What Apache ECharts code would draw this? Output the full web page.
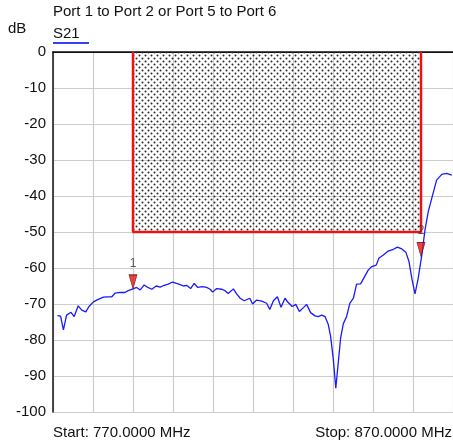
<!DOCTYPE html>
<html><head><meta charset="utf-8">
<script src="https://cdn.jsdelivr.net/npm/echarts@6/dist/echarts.min.js"></script>
<style>html,body{margin:0;padding:0;background:#fff}#c{width:453px;height:448px}</style>
</head><body><div id="c"></div>
<script>
// Trace S21 (frequency in MHz, level in dB)
const freqMHz = [771.1,771.9,772.6,773.4,774.5,775.3,776.3,777.2,778.2,779.0,780.1,781.3,782.6,783.5,784.0,784.7,785.5,786.8,788.0,788.8,
  790.0,790.9,791.8,792.8,793.7,794.7,795.8,796.8,797.8,798.8,799.9,800.9,801.8,802.6,803.4,804.4,805.3,806.2,807.3,808.4,
  809.3,809.9,810.9,812.2,813.0,813.8,815.1,815.9,816.8,817.8,819.2,819.9,820.9,822.2,823.4,824.2,825.1,826.1,827.0,828.0,
  828.8,829.8,830.7,831.6,832.6,833.4,834.4,835.5,836.3,837.2,838.0,838.8,839.4,840.1,840.7,841.3,841.9,842.6,843.4,844.2,
  845.1,845.9,846.9,847.8,848.8,849.7,850.8,851.5,852.6,853.8,855.1,856.1,857.2,858.2,859.0,859.7,860.5,861.3,862.2,863.0,
  863.8,864.7,865.9,867.2,868.4,869.7];
const s21dB = [-73.2,-73.4,-77.2,-73.1,-72.3,-73.5,-70.5,-71.7,-72.2,-70.7,-69.4,-68.7,-68.1,-68.0,-67.5,-68.0,-67.0,-66.8,-66.8,-66.3,
  -65.8,-65.4,-66.1,-64.7,-65.4,-65.9,-65.0,-65.3,-64.8,-64.5,-63.9,-64.3,-64.6,-65.0,-64.8,-65.7,-64.3,-65.4,-65.2,-65.4,
  -65.9,-66.7,-65.7,-65.9,-66.3,-67.1,-65.8,-67.2,-68.4,-69.1,-68.4,-70.0,-68.9,-69.2,-69.8,-71.5,-69.1,-68.0,-70.9,-68.4,
  -69.6,-70.7,-70.1,-72.1,-71.0,-70.1,-72.4,-73.3,-73.5,-73.1,-73.5,-75.6,-79.0,-85.6,-93.4,-86.5,-79.5,-75.4,-73.5,-69.8,
  -68.4,-64.5,-64.4,-62.6,-60.6,-59.6,-59.2,-57.2,-56.4,-55.3,-54.8,-54.2,-54.7,-55.6,-58.2,-62.9,-67.2,-62.9,-56.4,-49.4,
  -44.4,-40.6,-35.6,-34.0,-33.7,-34.2];

// Markers
const markerFreqMHz = [790, 862];
const markerDB = [-65.8, -56.8];
const markerLabels = ['1', '2'];

// Limit mask (dotted region)
const maskFreqMHz = [790, 862];
const maskDB = [0, -50];

// Axes
const xMinMHz = 770, xMaxMHz = 870, xStepMHz = 10;
const yMinDB = -100, yMaxDB = 0, yStepDB = 10;

const titleText = 'Port 1 to Port 2 or Port 5 to Port 6';
const unitText = 'dB';
const traceName = 'S21';
const startText = 'Start: 770.0000 MHz';
const stopText = 'Stop: 870.0000 MHz';

function dotPattern() {
  const c = document.createElement('canvas');
  c.width = 6; c.height = 6;
  const g = c.getContext('2d');
  g.fillStyle = 'rgba(40,40,40,1)';
  g.beginPath(); g.arc(1.5, 1.5, 1.0, 0, Math.PI * 2); g.fill();
  g.beginPath(); g.arc(4.5, 4.5, 1.0, 0, Math.PI * 2); g.fill();
  return c;
}

const font = 'Liberation Sans, Arial, Helvetica, sans-serif';
const txt = { fontSize: 15, fontWeight: 'normal', color: '#111', fontFamily: font };
const chart = echarts.init(document.getElementById('c'));
const trace = freqMHz.map((f, i) => [f, s21dB[i]]);
const maskEdge = [
  [maskFreqMHz[0], maskDB[0]], [maskFreqMHz[0], maskDB[1]],
  [maskFreqMHz[1], maskDB[1]], [maskFreqMHz[1], maskDB[0]]
];
const markers = markerFreqMHz.map((f, i) => ({ value: [f, markerDB[i]], name: markerLabels[i] }));

chart.setOption({
  animation: false,
  backgroundColor: '#fff',
  textStyle: { fontFamily: font },
  title: [
    { text: titleText, left: 53, top: 4, padding: 0, textStyle: txt },
    { text: unitText, left: 8, top: 21, padding: 0, textStyle: txt },
    { text: traceName, left: 53, top: 26, padding: 0, textStyle: txt },
    { text: startText, left: 53, top: 425, padding: 0, textStyle: txt },
    { text: stopText, right: 1, top: 425, padding: 0, textStyle: txt }
  ],
  graphic: [
    { type: 'line', shape: { x1: 53, y1: 43, x2: 89, y2: 43 }, style: { stroke: '#3344ee', lineWidth: 2 } }
  ],
  grid: { left: 53, top: 52, right: 0, bottom: 36, show: false },
  xAxis: [
    { type: 'value', min: xMinMHz, max: xMaxMHz, interval: xStepMHz, position: 'bottom',
      axisLine: { show: true, lineStyle: { color: '#111', width: 1.5 } }, axisTick: { show: false }, axisLabel: { show: false },
      splitLine: { show: true, lineStyle: { color: '#cccccc', width: 1.2 } } },
    { type: 'value', min: xMinMHz, max: xMaxMHz, position: 'top',
      axisLine: { show: true, lineStyle: { color: '#111', width: 1.2 } }, axisTick: { show: false }, axisLabel: { show: false },
      splitLine: { show: false } }
  ],
  yAxis: { type: 'value', min: yMinDB, max: yMaxDB, interval: yStepDB,
    axisLine: { show: true, lineStyle: { color: '#111', width: 1.5 } }, axisTick: { show: false },
    axisLabel: { fontSize: 15, color: '#111', margin: 7, fontFamily: font },
    splitLine: { show: true, lineStyle: { color: '#cccccc', width: 1.2 } } },
  series: [
    { type: 'line', name: 'mask', data: maskEdge, symbol: 'none', silent: true, z: 3,
      lineStyle: { color: '#ee1111', width: 2.5 },
      markArea: { silent: true, itemStyle: { color: { image: dotPattern(), repeat: 'repeat' } },
        data: [[{ coord: [maskFreqMHz[0], maskDB[0]] }, { coord: [maskFreqMHz[1], maskDB[1]] }]] } },
    { type: 'line', name: traceName, data: trace, symbol: 'none', z: 4,
      lineStyle: { color: '#1a1aff', width: 1.3 } },
    { type: 'scatter', name: 'markers', data: markers, symbol: 'triangle', symbolRotate: 180,
      symbolSize: [8, 14], symbolOffset: [0, -7], z: 5,
      itemStyle: { color: '#ee1111', borderColor: '#551111', borderWidth: 0.8 },
      label: { show: true, formatter: p => p.name, position: 'top', distance: 5, fontSize: 12, color: '#333', fontFamily: font } }
  ]
});
</script></body></html>
